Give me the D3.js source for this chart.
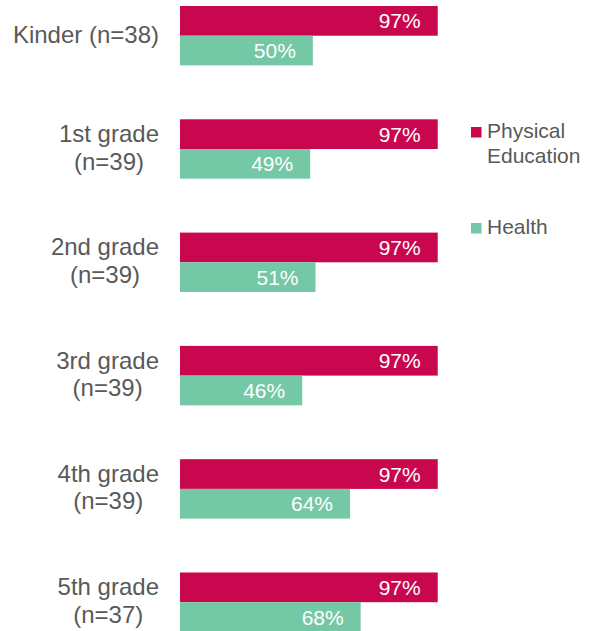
<!DOCTYPE html>
<html>
<head>
<meta charset="utf-8">
<script src="https://cdn.jsdelivr.net/npm/d3@7"></script>
<style>
  html, body { margin: 0; padding: 0; background: #fff; }
  svg { display: block; }
  text { font-family: "Liberation Sans", Arial, sans-serif; }
</style>
</head>
<body>
<svg id="chart" width="594" height="631"></svg>
<script>
const categories = [
  ["Kinder (n=38)"],
  ["1st grade", "(n=39)"],
  ["2nd grade", "(n=39)"],
  ["3rd grade", "(n=39)"],
  ["4th grade", "(n=39)"],
  ["5th grade", "(n=37)"]
];
const seriesNames = ["Physical Education", "Health"];
const legendLines = [["Physical", "Education"], ["Health"]];
const peValues = [97, 97, 97, 97, 97, 97];
const healthValues = [50, 49, 51, 46, 64, 68];
const colors = ["#C8074F", "#75C8A5"];

const svg = d3.select("#chart");
const keys = categories.map((c, i) => i);

const x = d3.scaleLinear().domain([0, 100]).range([180, 445.7]);

const step = 113.3, bw = 59.4;
const pin = 1 - bw / step;
const y0 = 6 - step * pin / 2;
const y = d3.scaleBand().domain(keys).range([y0, y0 + step * keys.length])
  .paddingInner(pin).paddingOuter(pin / 2);
const ys = d3.scaleBand().domain([0, 1]).range([0, y.bandwidth()]);

const rows = keys.map(i => [peValues[i], healthValues[i]]);

const g = svg.selectAll("g.cat").data(rows).join("g")
  .attr("class", "cat")
  .attr("transform", (d, i) => `translate(0,${y(i)})`);

g.selectAll("rect").data(d => d).join("rect")
  .attr("x", x(0))
  .attr("y", (d, j) => ys(j))
  .attr("width", d => x(d) - x(0))
  .attr("height", ys.bandwidth())
  .attr("fill", (d, j) => colors[j]);

g.selectAll("text.val").data(d => d).join("text")
  .attr("class", "val")
  .attr("x", d => x(d) - 17)
  .attr("y", (d, j) => ys(j) + ys.bandwidth() / 2 + 7.5)
  .attr("text-anchor", "end")
  .attr("fill", "#ffffff")
  .attr("font-size", 21)
  .text(d => d + "%");

// category labels: block right-aligned at 159, lines centered within block
const labelRight = 159;
categories.forEach((lines, i) => {
  const cy = y(i) + y.bandwidth() / 2;
  const t = svg.append("g");
  const texts = lines.map((ln, k) => {
    const baseline = lines.length === 1 ? cy + 7 : cy - 7 + k * 27.5;
    return t.append("text")
      .attr("y", baseline)
      .attr("font-size", 24)
      .attr("fill", "#595959")
      .attr("text-anchor", "middle")
      .text(ln);
  });
  const widths = texts.map(tx => tx.node().getComputedTextLength());
  const w = d3.max(widths);
  texts.forEach(tx => tx.attr("x", labelRight - w / 2));
});

// legend
const legendY = [138, 234];
legendLines.forEach((lines, j) => {
  svg.append("rect")
    .attr("x", 471).attr("y", legendY[j] - 11)
    .attr("width", 10.5).attr("height", 10.5)
    .attr("fill", colors[j]);
  lines.forEach((ln, k) => {
    svg.append("text")
      .attr("x", 487)
      .attr("y", legendY[j] + k * 25)
      .attr("font-size", 21)
      .attr("fill", "#595959")
      .text(ln);
  });
});
</script>
</body>
</html>
